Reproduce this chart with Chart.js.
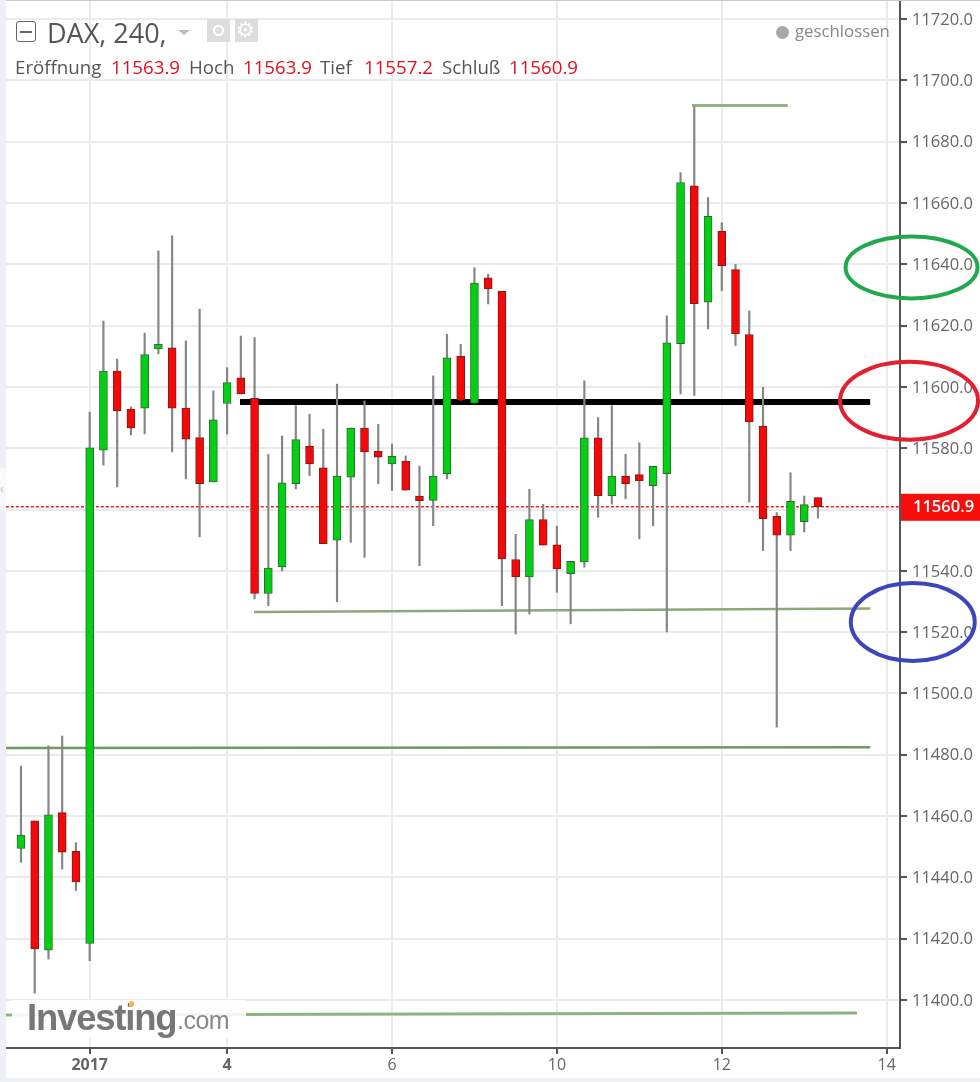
<!DOCTYPE html>
<html>
<head>
<meta charset="utf-8">
<script src="https://cdn.jsdelivr.net/npm/chart.js@4/dist/chart.umd.min.js"></script>
<style>
    html, body { margin: 0; padding: 0; background: #fff; }
    #wrap { position: relative; width: 980px; height: 1082px; overflow: hidden; font-family: "Open Sans", sans-serif; }
    canvas { position: absolute; left: 0; top: 0; }
    .txt { position: absolute; white-space: nowrap; color: #555; }
    .legend { top: 55px; font-size: 18.7px; line-height: 24px; }
    .red { color: #e0101c; }
</style>
</head>
<body>
<div id="wrap">
    <canvas id="my-chart" width="980" height="1082"></canvas>

    <div style="position:absolute;left:0;top:0;width:6px;height:1082px;background:#eef0f5"></div>
    <div style="position:absolute;left:0;top:468px;width:6px;height:42px;background:#f9f9f9"></div>
    <div class="txt" style="left:0;top:480px;font-size:12px;color:#bbb">‹</div>
    <div style="position:absolute;left:0;top:1078px;width:980px;height:4px;background:#eef0f5"></div>
    <div style="position:absolute;left:6px;top:0;width:974px;height:1px;background:#ccc"></div>

    <div style="position:absolute;left:16px;top:21px;width:18px;height:19px;border:1.5px solid #666;border-radius:3px"></div>
    <div style="position:absolute;left:20px;top:31px;width:12px;height:1.5px;background:#666"></div>
    <div class="txt" style="left:47px;top:15px;font-size:27px;line-height:36px">DAX, 240,</div>
    <div style="position:absolute;left:178px;top:30px;border-left:6px solid transparent;border-right:6px solid transparent;border-top:5px solid #bbb"></div>
    <div style="position:absolute;left:207px;top:19px;width:23px;height:23px;background:#ddd"></div>
    <div style="position:absolute;left:213px;top:25px;width:7px;height:7px;border:2px solid #fff;border-radius:50%"></div>
    <div style="position:absolute;left:235px;top:19px;width:23px;height:23px;background:#ddd"></div>
    <div class="txt" style="left:236px;top:17px;font-size:21px;line-height:26px;color:#fff;font-family:'DejaVu Sans'">⚙</div>

    <div class="txt legend" style="left:15px">Eröffnung</div>
    <div class="txt legend red" style="left:111px">11563.9</div>
    <div class="txt legend" style="left:189px">Hoch</div>
    <div class="txt legend red" style="left:243px">11563.9</div>
    <div class="txt legend" style="left:320px">Tief</div>
    <div class="txt legend red" style="left:364px">11557.2</div>
    <div class="txt legend" style="left:442px">Schluß</div>
    <div class="txt legend red" style="left:509px">11560.9</div>

    <div style="position:absolute;left:776px;top:26px;width:13px;height:13px;border-radius:50%;background:#a8a8a8"></div>
    <div class="txt" style="left:795px;top:20px;font-size:16.8px;line-height:22px;color:#888">geschlossen</div>

    <div style="position:absolute;left:12px;top:1000px;width:234px;height:38px;background:rgba(255,255,255,0.88)"></div>
    <div class="txt" style="left:27px;top:993px;font-family:'Liberation Sans';font-weight:bold;font-size:36.5px;line-height:50px;letter-spacing:-1.2px;color:#777">Investing</div>
    <div class="txt" style="left:177px;top:1002px;font-family:'Liberation Sans';font-size:25px;line-height:36px;letter-spacing:-0.5px;color:#888">.com</div>
    <div style="position:absolute;left:129px;top:1001px;width:5px;height:6px;background:#f5b555;border-radius:2px"></div>
</div>

<script>
// DAX 4h candles
const opens = [11449.4, 11458.4, 11416.2, 11461.1, 11448.5, 11418.4, 11579.4, 11605.2, 11592.8, 11593.1, 11612.4, 11612.8, 11593.1, 11583.5, 11569, 11594.6, 11603, 11596.3, 11532.6, 11541.3, 11568.4, 11580.7, 11573.6, 11550, 11570.6, 11586.6, 11579, 11574.9, 11575.8, 11564.4, 11563, 11571.7, 11610, 11594.7, 11635.6, 11631.2, 11543.7, 11538, 11556.7, 11548.5, 11539.1, 11542.9, 11583.4, 11564.5, 11570.9, 11571.4, 11567.8, 11571.7, 11614.1, 11665.6, 11627.7, 11650.8, 11638.3, 11617.1, 11587.2, 11557.8, 11551.6, 11556, 11563.9]
const highs = [11476.3, 11458.4, 11482.9, 11486.1, 11451.3, 11591.8, 11621.5, 11609.1, 11593.5, 11617.6, 11644.4, 11649.3, 11615, 11625.4, 11598.7, 11606.3, 11616.6, 11616.1, 11578, 11584, 11593.9, 11591.1, 11586.2, 11600.9, 11586.6, 11595.4, 11587.8, 11581.3, 11577.5, 11574.2, 11603.6, 11617.2, 11613.9, 11638.9, 11636.8, 11631.2, 11551.9, 11566.6, 11561.7, 11554.6, 11543.1, 11602, 11590, 11593.9, 11578, 11581.8, 11574.1, 11623.2, 11669.9, 11691.4, 11661.8, 11653.6, 11640, 11624.8, 11599.9, 11559, 11572, 11564.4, 11563.9]
const lows = [11444.9, 11402.2, 11413.3, 11442.7, 11435.7, 11412.8, 11574.5, 11567.4, 11584.3, 11584.7, 11610.8, 11578.8, 11570, 11551.1, 11569, 11584.6, 11597.7, 11530.8, 11528.6, 11540, 11566.7, 11571.1, 11548.9, 11529.9, 11549.3, 11544.4, 11568.4, 11566.2, 11566.3, 11541.7, 11554.7, 11570, 11595.7, 11594.7, 11627.1, 11528.6, 11519.4, 11525.9, 11548.4, 11533, 11522.7, 11541.2, 11557.5, 11561.8, 11563.5, 11550.4, 11554.7, 11520.1, 11597.7, 11597.2, 11618.9, 11631.4, 11613.5, 11562.4, 11546.6, 11489, 11546.6, 11552.7, 11557.2]
const closes = [11453.8, 11416.6, 11460.4, 11448.2, 11438.5, 11580.1, 11605.2, 11592.2, 11586.6, 11610.6, 11613.9, 11593.1, 11583, 11568.4, 11589.3, 11601.4, 11597.7, 11532.6, 11540.9, 11568.7, 11582.8, 11574.9, 11548.9, 11570.9, 11586.6, 11578.8, 11577.1, 11577.4, 11566.3, 11562.9, 11570.9, 11609.5, 11595.7, 11633.9, 11632, 11543.9, 11538, 11556.7, 11548.4, 11540.6, 11543.1, 11583.4, 11564.5, 11570.9, 11568.4, 11569.4, 11574.1, 11614.4, 11666.7, 11627.2, 11655.7, 11639.6, 11617.4, 11588.6, 11557, 11551.6, 11562.7, 11561.6, 11560.9]

const yTicks = [11400, 11420, 11440, 11460, 11480, 11500, 11520, 11540, 11560, 11580, 11600, 11620, 11640, 11660, 11680, 11700, 11720]
const xTicks = [5, 15, 27, 39, 51, 63]
const xLabels = ['2017', '4', '6', '10', '12', '14']
const lastPrice = 11560.9

// hand drawn lines on the chart, x is the candle number
const blackLine = [{ x: 15.94, y: 11595.1 }, { x: 61.8, y: 11595.1 }]
const topLine = [{ x: 48.83, y: 11691.8 }, { x: 55.8, y: 11691.8 }]
const supportLine = [{ x: 16.96, y: 11526.6 }, { x: 61.8, y: 11527.7 }]
const midLine = [{ x: -1.1, y: 11482.2 }, { x: 61.8, y: 11482.4 }]
const bottomLine = [{ x: -1.1, y: 11395.1 }, { x: 60.84, y: 11395.7 }]
const priceLine = [{ x: -1.1, y: lastPrice }, { x: 64, y: lastPrice }]

// circles round the axis labels, in axis units
const rings = [
    { x: 64.81, y: 11639, rx: 4.8, ry: 10.1, color: '#22a84e' },
    { x: 64.63, y: 11595.5, rx: 5.02, ry: 12.7, color: '#e2202f' },
    { x: 64.9, y: 11523.3, rx: 4.51, ry: 12.7, color: '#3c46bb' }
]

const isUp = opens.map((o, i) => closes[i] >= o)

const overlayPlugin = {
    id: 'overlay',
    afterDraw(chart) {
        const ctx = chart.ctx
        const xs = chart.scales.x
        const ys = chart.scales.y

        // last price box
        const py = ys.getPixelForValue(lastPrice)
        ctx.save()
        ctx.fillStyle = '#f80d0d'
        ctx.fillRect(xs.right + 1, py - 13, 80, 27)
        ctx.fillStyle = '#fff'
        ctx.font = '600 16.5px "Open Sans"'
        ctx.textAlign = 'left'
        ctx.textBaseline = 'middle'
        ctx.fillText(lastPrice.toFixed(1), 913, py + 1)

        rings.forEach(r => {
            const cx = xs.getPixelForValue(r.x)
            const cy = ys.getPixelForValue(r.y)
            const w = xs.getPixelForValue(r.x + r.rx) - cx
            const h = cy - ys.getPixelForValue(r.y + r.ry)
            ctx.beginPath()
            ctx.ellipse(cx, cy, w, h, 0, 0, Math.PI * 2)
            ctx.strokeStyle = r.color
            ctx.lineWidth = 4
            ctx.stroke()
        })
        ctx.restore()
    }
}

const lineSet = (data, color, width, dash) => ({
    type: 'line',
    data: data,
    borderColor: color,
    borderWidth: width,
    borderDash: dash || [],
    pointRadius: 0,
    fill: false,
    order: 5
})

new Chart(document.getElementById('my-chart'), {
    type: 'bar',
    data: {
        datasets: [
            {
                data: opens.map((o, i) => ({ x: i, y: [o, closes[i]] })),
                backgroundColor: isUp.map(u => u ? '#05cf14' : '#f40808'),
                borderColor: isUp.map(u => u ? '#2b6b33' : '#7d1c1c'),
                borderWidth: 1,
                borderSkipped: false,
                barThickness: 8,
                grouped: false,
                order: 1
            },
            {
                data: lows.map((l, i) => ({ x: i, y: [l, highs[i]] })),
                backgroundColor: '#858585',
                barThickness: 1.5,
                grouped: false,
                order: 2
            },
            lineSet(priceLine, '#f31a1a', 1.5, [3, 2]),
            lineSet(blackLine, '#000', 6),
            lineSet(topLine, '#90b381', 3),
            lineSet(supportLine, '#86ab76', 2.5),
            lineSet(midLine, '#6f9a60', 2.5),
            lineSet(bottomLine, '#8fb380', 3)
        ]
    },
    options: {
        responsive: false,
        animation: false,
        layout: { padding: { left: 6 }, autoPadding: false },
        plugins: { legend: { display: false }, tooltip: { enabled: false } },
        scales: {
            x: {
                type: 'linear',
                offset: false,
                min: -1.09,
                max: 63.97,
                grid: { offset: false, color: '#ebebeb', lineWidth: 2, tickLength: 6, tickColor: '#555' },
                border: { color: '#555', width: 2 },
                afterBuildTicks(axis) {
                    axis.ticks = xTicks.map(v => ({ value: v }))
                },
                afterFit(axis) {
                    axis.height = 34
                    axis.paddingLeft = 0
                    axis.paddingRight = 0
                },
                ticks: {
                    autoSkip: false,
                    maxRotation: 0,
                    padding: 2,
                    color: '#666',
                    font: ctx => ({ family: 'Open Sans', size: 16, weight: ctx.index < 2 ? 'bold' : 'normal' }),
                    callback: (v, i) => xLabels[i]
                }
            },
            y: {
                position: 'right',
                min: 11384.3,
                max: 11726.26,
                grid: { color: '#ebebeb', lineWidth: 2, tickLength: 7, tickColor: '#555' },
                border: { color: '#555', width: 2 },
                afterBuildTicks(axis) {
                    axis.ticks = yTicks.map(v => ({ value: v }))
                },
                afterFit(axis) {
                    axis.width = 80
                    axis.paddingTop = 0
                    axis.paddingBottom = 0
                },
                ticks: {
                    autoSkip: false,
                    padding: 5,
                    labelOffset: 1,
                    color: '#666',
                    font: { family: 'Open Sans', size: 16.5 },
                    // the 11560 label sits under the last price box
                    callback: v => v === 11560 ? '' : v.toFixed(1)
                }
            }
        }
    },
    plugins: [overlayPlugin]
})
</script>
</body>
</html>
